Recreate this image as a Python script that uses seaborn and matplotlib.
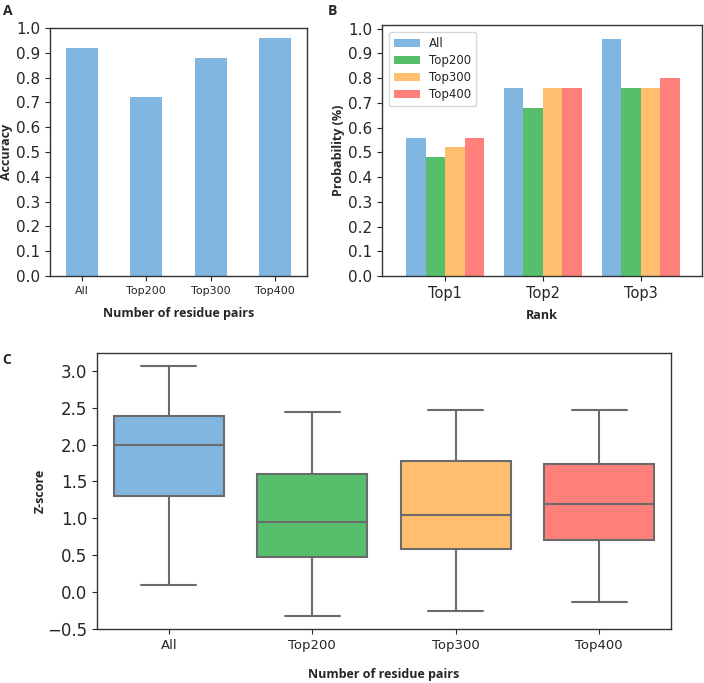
import pandas as pd
import seaborn as sns
import matplotlib.pyplot as plt

# -----------------------------------------------------
# DATA
# -----------------------------------------------------

groups = ["All", "Top200", "Top300", "Top400"]
colors = ["#80b6e0", "#57bf6b", "#ffbf6f", "#ff807b"]

# panel A: accuracy per residue-pair set
accuracy = [0.92, 0.72, 0.88, 0.96]

# panel B: probability per rank
ranks = ["Top1", "Top2", "Top3"]
prob_all = [0.56, 0.76, 0.96]
prob_top200 = [0.48, 0.68, 0.76]
prob_top300 = [0.52, 0.76, 0.76]
prob_top400 = [0.56, 0.76, 0.80]

# panel C: z-score summary (min, q1, median, q3, max)
z_all = [0.09, 1.30, 1.99, 2.39, 3.07]
z_top200 = [-0.33, 0.48, 0.95, 1.60, 2.44]
z_top300 = [-0.25, 0.58, 1.05, 1.77, 2.47]
z_top400 = [-0.14, 0.70, 1.20, 1.74, 2.47]

df_a = pd.DataFrame({"group": groups, "acc": accuracy})

rows = []
for g, vals in zip(groups, [prob_all, prob_top200, prob_top300, prob_top400]):
    for r, v in zip(ranks, vals):
        rows.append({"rank": r, "set": g, "prob": v})
df_b = pd.DataFrame(rows)

rows = []
for g, vals in zip(groups, [z_all, z_top200, z_top300, z_top400]):
    for v in vals:
        rows.append({"group": g, "z": v})
df_c = pd.DataFrame(rows)

# -----------------------------------------------------
# FIGURE
# -----------------------------------------------------

sns.set_style("ticks")
plt.rcParams["font.family"] = ["DejaVu Sans"]
plt.rcParams["axes.edgecolor"] = "#333333"
plt.rcParams["axes.linewidth"] = 1.0

label_font = {"family": "Open Sans", "weight": "bold", "size": 9}
letter_font = {"family": "Open Sans", "weight": "bold", "size": 10}

fig = plt.figure(figsize=(7.04, 6.83), dpi=100)

ax_a = fig.add_axes([50 / 704, 1 - 276 / 683, 257 / 704, 248 / 683])
ax_b = fig.add_axes([382 / 704, 1 - 276 / 683, 320 / 704, 251 / 683])
ax_c = fig.add_axes([97 / 704, 1 - 629 / 683, 574 / 704, 276 / 683])

# A
sns.barplot(data=df_a, x="group", y="acc", color=colors[0],
            width=0.5, saturation=1, linewidth=0, ax=ax_a)
ax_a.set_ylim(0, 1.0)
ax_a.set_yticks([i / 10 for i in range(11)])
ax_a.tick_params(axis="y", labelsize=11)
ax_a.tick_params(axis="x", labelsize=8)
ax_a.set_xlabel("Number of residue pairs", fontdict=label_font, labelpad=8)
ax_a.set_ylabel("Accuracy", fontdict=label_font, labelpad=2)

# B
sns.barplot(data=df_b, x="rank", y="prob", hue="set", palette=colors,
            width=0.8, saturation=1, linewidth=0, ax=ax_b)
ax_b.set_ylim(0, 1.015)
ax_b.set_xlim(-0.65, 2.63)
ax_b.set_yticks([i / 10 for i in range(11)])
ax_b.tick_params(axis="y", labelsize=11)
ax_b.tick_params(axis="x", labelsize=10.5)
ax_b.set_xlabel("Rank", fontdict=label_font, labelpad=6)
ax_b.set_ylabel("Probability (%)", fontdict=label_font, labelpad=2)
ax_b.legend(loc="upper left", fontsize=8.5, title=None, frameon=True,
            handlelength=2.2, labelspacing=0.35, borderaxespad=0.6)

# C
sns.boxplot(data=df_c, x="group", y="z", hue="group", palette=colors,
            width=0.77, saturation=1, whis=(0, 100), linewidth=1.5,
            linecolor="#6b6b6b", legend=False, ax=ax_c)
ax_c.tick_params(axis="y", labelsize=12)
ax_c.tick_params(axis="x", labelsize=9.5)
ax_c.set_xlabel("Number of residue pairs", fontdict=label_font, labelpad=12)
ax_c.set_ylabel("Z-score", fontdict=label_font, labelpad=0)

for ax in (ax_a, ax_b, ax_c):
    for s in ax.spines.values():
        s.set_visible(True)

# panel letters
fig.text(3 / 704, 1 - 11 / 683, "A", fontdict=letter_font, va="center")
fig.text(328 / 704, 1 - 11 / 683, "B", fontdict=letter_font, va="center")
fig.text(2 / 704, 1 - 360 / 683, "C", fontdict=letter_font, va="center")

plt.savefig("out.png", dpi=100)
plt.close()
